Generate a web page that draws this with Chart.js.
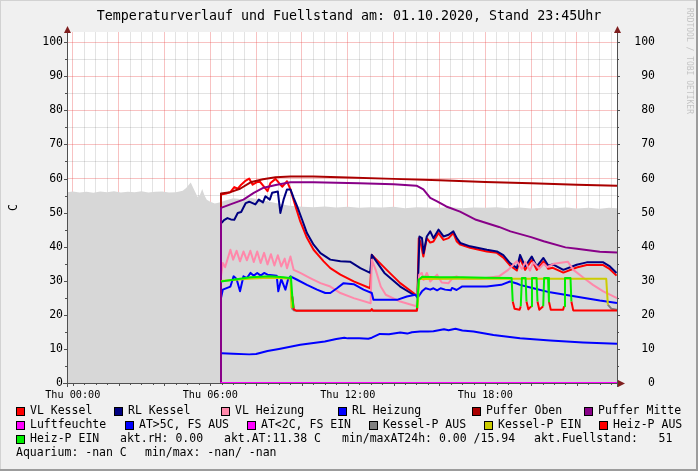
<!DOCTYPE html>
<html>
<head>
<meta charset="utf-8">
<script src="https://cdn.jsdelivr.net/npm/chart.js@4.4.0/dist/chart.umd.min.js"></script>
<style>
  html, body { margin: 0; padding: 0; background: #f0f0f0; }
  canvas { display: block; }
</style>
</head>
<body>
<canvas id="c" width="698" height="471"></canvas>
<script>
// Zeitachse in Stunden (Thu 00:00 = 0), Werte in C bzw. %
const TITLE = 'Temperaturverlauf und Fuellstand am: 01.10.2020, Stand 23:45Uhr';
const X_MIN = -0.25, X_MAX = 23.75;
const Y_MAX = 103;

const fuellstand = [[-0.25,56.0],[0.0,56.2],[0.3,55.9],[0.6,56.1],[0.9,55.8],[1.2,56.2],[1.5,56.0],[1.8,56.3],[2.1,55.9],[2.4,56.1],[2.7,56.0],[3.0,56.3],[3.3,55.9],[3.6,56.1],[3.9,56.2],[4.2,55.9],[4.5,56.0],[4.8,56.4],[4.95,57.2],[5.05,58.0],[5.15,58.8],[5.25,57.4],[5.35,56.0],[5.45,54.6],[5.55,55.2],[5.65,56.9],[5.75,55.0],[5.85,53.8],[6.0,53.2],[6.2,52.7],[6.4,53.0],[6.7,53.6],[7.0,54.2],[7.4,53.9],[7.8,54.3],[8.2,53.8],[8.6,53.2],[9.0,52.6],[9.4,52.1],[9.8,51.8],[10.5,51.6],[11.0,51.8],[11.5,51.5],[12,51.7],[12.5,51.4],[13,51.6],[13.5,51.5],[14,51.7],[14.5,51.3],[15,51.6],[15.5,51.5],[16,51.4],[16.5,51.6],[17,51.3],[17.5,51.5],[18,51.4],[18.5,51.6],[19,51.3],[19.5,51.5],[20,51.2],[20.5,51.4],[21,51.3],[21.5,51.5],[22,51.2],[22.5,51.4],[23,51.1],[23.4,51.4],[23.75,51.3]];

const vlKessel = [[6.47,55.3],[6.7,55.6],[6.88,56.0],[7.05,57.5],[7.2,57.0],[7.35,58.2],[7.55,59.4],[7.7,60.0],[7.85,58.2],[8.0,58.8],[8.15,59.2],[8.3,58.0],[8.5,56.3],[8.63,58.7],[8.85,59.9],[9.0,58.7],[9.15,57.6],[9.35,59.2],[9.5,56.8],[9.72,51.9],[9.93,47.4],[10.22,42.6],[10.51,39.1],[10.95,35.7],[11.24,33.7],[11.68,31.8],[12.26,29.8],[12.98,27.8],[13.05,37.6],[13.7,33.2],[14.29,29.3],[14.87,26.4],[15.04,25.4],[15.1,42.5],[15.17,41.5],[15.3,37.1],[15.45,42.5],[15.6,41.2],[15.74,41.5],[15.96,44.0],[16.18,42.0],[16.4,42.5],[16.61,44.0],[16.76,41.5],[16.91,40.6],[17.34,39.7],[18.07,38.6],[18.51,38.2],[18.79,36.8],[19.08,34.5],[19.38,33.0],[19.52,36.6],[19.74,33.2],[20.03,36.1],[20.25,33.2],[20.54,35.7],[20.75,33.5],[20.95,33.8],[21.41,32.4],[21.99,33.9],[22.43,34.6],[23.15,34.6],[23.44,33.4],[23.73,31.5]];

const rlKessel = [[6.5,47.0],[6.6,47.8],[6.75,48.4],[6.9,48.0],[7.05,47.9],[7.2,49.9],[7.35,50.2],[7.55,52.8],[7.7,53.2],[7.97,52.4],[8.12,53.8],[8.3,53.0],[8.41,54.8],[8.6,53.8],[8.7,55.8],[8.95,56.2],[9.06,49.9],[9.2,53.8],[9.35,56.8],[9.5,56.8],[9.64,54.3],[9.79,51.9],[10.01,47.9],[10.22,44.0],[10.51,40.6],[10.81,38.1],[11.24,36.2],[11.68,35.7],[12.1,35.6],[12.55,33.7],[12.98,32.3],[13.05,37.6],[13.6,32.3],[14.29,28.3],[14.87,25.9],[15.05,25.8],[15.13,43.0],[15.24,42.5],[15.31,38.1],[15.45,43.0],[15.6,44.5],[15.74,42.5],[15.96,45.0],[16.18,43.0],[16.4,43.5],[16.61,44.5],[16.76,42.5],[16.91,41.1],[17.34,40.1],[18.07,39.1],[18.51,38.6],[18.79,37.5],[19.08,35.2],[19.38,33.7],[19.52,37.6],[19.74,34.2],[20.03,37.1],[20.25,34.2],[20.54,36.7],[20.75,34.5],[20.95,34.8],[21.41,33.2],[21.99,34.7],[22.43,35.4],[23.15,35.4],[23.44,34.2],[23.73,32.3]];

const vlHeizung = [[6.47,31.3],[6.55,35.2],[6.65,34.0],[6.88,39.1],[7.0,36.2],[7.15,38.8],[7.3,35.7],[7.45,38.6],[7.6,36.0],[7.75,38.8],[7.9,35.5],[8.05,38.6],[8.2,35.2],[8.35,38.2],[8.5,34.8],[8.65,37.8],[8.8,34.5],[8.95,37.5],[9.1,34.2],[9.25,36.5],[9.35,33.7],[9.5,37.1],[9.64,33.2],[9.93,32.3],[10.36,30.8],[10.81,29.3],[11.24,28.3],[11.68,26.4],[12.26,24.9],[13.0,23.4],[13.05,36.2],[13.22,33.2],[13.44,28.3],[13.66,25.9],[14.29,23.9],[15.0,22.5],[15.12,31.8],[15.24,32.3],[15.31,30.2],[15.45,32.3],[15.6,29.8],[15.9,31.8],[16.1,29.5],[16.4,29.3],[16.6,31.0],[16.75,31.3],[17.0,30.5],[17.8,30.6],[18.6,31.3],[19.0,33.2],[19.15,34.2],[19.38,35.7],[19.6,33.5],[19.75,35.5],[19.95,33.0],[20.1,35.5],[20.35,33.5],[20.55,35.0],[20.7,34.0],[21.0,35.0],[21.3,35.3],[21.6,35.6],[21.85,33.2],[22.3,30.8],[22.7,28.8],[23.15,26.9],[23.75,24.9]];

const rlHeizung = [[6.47,24.9],[6.55,27.4],[6.88,28.3],[7.02,31.3],[7.15,30.5],[7.3,26.9],[7.45,31.3],[7.6,30.8],[7.76,32.3],[7.9,31.5],[8.05,32.3],[8.2,31.5],[8.35,32.3],[8.5,31.8],[8.9,31.5],[8.97,26.9],[9.1,30.5],[9.28,27.4],[9.4,30.5],[9.5,31.3],[9.79,30.3],[10.22,28.8],[10.66,27.4],[11.02,26.4],[11.24,26.4],[11.53,27.8],[11.82,29.3],[12.26,29.0],[12.69,27.4],[13.05,26.4],[13.12,24.4],[14.15,24.4],[14.58,25.4],[14.95,25.9],[15.05,25.0],[15.24,26.9],[15.4,27.8],[15.6,27.4],[15.74,27.8],[15.9,27.2],[16.05,27.8],[16.25,27.4],[16.5,27.2],[16.55,27.9],[16.75,27.3],[16.98,28.3],[18.07,28.3],[18.7,28.8],[19.08,29.8],[19.38,29.2],[19.52,28.8],[20.1,27.8],[20.83,26.6],[21.55,25.8],[22.27,25.0],[23.0,24.2],[23.75,23.5]];

const pufferOben = [[6.45,0],[6.47,55.6],[6.88,56.0],[7.3,57.0],[7.76,58.9],[8.3,59.8],[8.85,60.4],[9.5,60.6],[10.5,60.6],[12,60.3],[14,59.9],[16,59.5],[18,59.0],[20,58.6],[22,58.2],[23.75,57.9]];

const pufferMitte = [[6.45,0],[6.47,51.4],[6.88,52.4],[7.45,53.8],[7.9,55.8],[8.33,57.3],[8.91,58.2],[9.5,58.9],[10.5,58.9],[12.5,58.6],[14.0,58.3],[15.0,57.9],[15.3,56.8],[15.6,54.3],[15.9,53.3],[16.3,51.8],[16.9,50.3],[17.6,47.9],[18.6,45.8],[19.1,44.5],[20.0,42.8],[20.55,41.6],[21.5,39.8],[22.0,39.4],[23.0,38.5],[23.75,38.3]];

const luftfeuchte = [[6.45,0],[23.75,0]];

const atWarm = [[6.5,8.7],[7.0,8.6],[7.7,8.4],[8.0,8.5],[8.5,9.4],[9.0,10.0],[9.93,11.2],[11.0,12.2],[11.5,12.9],[11.85,13.3],[12.0,13.1],[12.5,13.1],[12.9,13.0],[13.05,13.3],[13.4,14.4],[13.8,14.3],[14.29,14.8],[14.6,14.5],[14.8,14.9],[15.16,15.1],[15.5,15.1],[15.74,15.2],[16.2,15.8],[16.4,15.5],[16.7,15.9],[17.0,15.4],[17.49,15.1],[18.36,14.1],[19.52,13.1],[20.83,12.5],[22.27,11.9],[23.75,11.5]];

const atKalt = [];

const kesselPAus = [[9.55,22.0],[9.65,21.3],[15.0,21.3],[15.05,22.0],[15.06,null],[23.35,23.0],[23.5,21.8],[23.75,21.5]];

const kesselPEin = [[6.47,29.9],[7.0,30.2],[7.8,30.7],[8.6,30.9],[9.5,30.7],[9.55,22.0],[9.56,null],[15.05,22.0],[15.12,30.5],[17.0,30.6],[19.0,30.6],[21.0,30.6],[23.28,30.6],[23.35,23.0]];

const heizPAus = [[9.58,25.4],[9.65,21.6],[9.75,21.2],[12.0,21.2],[13.0,21.2],[13.05,21.7],[13.1,21.2],[15.0,21.2],[15.02,22.0],[15.03,null],[19.2,23.9],[19.28,21.8],[19.5,21.5],[19.55,22.5],[19.56,null],[19.8,23.9],[19.88,21.6],[20.0,22.5],[20.01,null],[20.28,23.9],[20.36,21.5],[20.53,22.5],[20.54,null],[20.78,23.9],[20.86,21.5],[21.4,21.5],[21.44,22.5],[21.45,null],[21.76,23.9],[21.84,21.3],[23.75,21.3]];

const heizPEin = [[6.47,29.8],[7.0,30.3],[7.76,31.0],[8.6,31.3],[9.2,31.0],[9.45,30.8],[9.52,31.2],[9.58,25.4],[9.63,22.0],[9.64,null],[15.02,22.0],[15.1,30.3],[15.25,31.2],[16,31.0],[17,31.0],[18,30.9],[19.15,30.8],[19.2,23.9],[19.21,null],[19.55,22.5],[19.6,30.8],[19.76,30.8],[19.8,23.9],[19.81,null],[20.0,22.5],[20.04,30.8],[20.24,30.8],[20.28,23.9],[20.29,null],[20.53,22.5],[20.57,30.8],[20.74,30.8],[20.78,23.9],[20.79,null],[21.44,22.5],[21.48,30.8],[21.72,30.8],[21.76,23.9]];

// Legende (Reihenfolge = Zeichenreihenfolge)
const seriesNames = ['VL Kessel','RL Kessel','VL Heizung','RL Heizung','Puffer Oben','Puffer Mitte','Luftfeuchte','AT>5C, FS AUS','AT<2C, FS EIN','Kessel-P AUS','Kessel-P EIN','Heiz-P AUS','Heiz-P EIN'];
const seriesColors = ['#ff0000','#000080','#ff88aa','#0000ff','#aa0000','#880088','#ff00ff','#0000ff','#ff00ff','#808080','#cccc00','#ff0000','#00ee00'];
const seriesData = [vlKessel, rlKessel, vlHeizung, rlHeizung, pufferOben, pufferMitte, luftfeuchte, atWarm, atKalt, kesselPAus, kesselPEin, heizPAus, heizPEin];

const infoRow3 = ['akt.rH: 0.00', 'akt.AT:11.38 C', 'min/maxAT24h: 0.00 /15.94', 'akt.Fuellstand:   51'];
const infoRow4 = ['Aquarium: -nan C', 'min/max: -nan/ -nan'];

const MONO = "'DejaVu Sans Mono', monospace";
const GRID_MAJOR = 'rgba(235,70,70,0.33)';
const GRID_MINOR = 'rgba(90,90,90,0.17)';
const ARROW = '#7f1f1f';

const toXY = arr => arr.map(([x, y]) => ({ x, y }));

const datasets = [{
  label: 'Fuellstand',
  data: toXY(fuellstand),
  fill: 'origin',
  backgroundColor: '#d7d7d7',
  borderColor: 'rgba(0,0,0,0)',
  borderWidth: 0,
  order: 100
}];
seriesData.forEach((d, i) => {
  datasets.push({
    label: seriesNames[i],
    data: toXY(d),
    borderColor: seriesColors[i],
    borderWidth: 2,
    fill: false,
    order: 50 - i
  });
});

// Legenden-Positionen
const legendLayout = [
  [[16, 0], [114, 1], [221, 2], [338, 3], [472, 4], [584, 5]],
  [[16, 6], [125, 7], [247, 8], [369, 9], [484, 10], [599, 11]],
  [[16, 12]]
];
const infoX3 = [120, 224, 342, 534];
const infoX4 = [16, 145];
const rowY = [411, 425, 439, 453];

const rrdFrame = {
  id: 'rrdFrame',
  beforeDraw(chart) {
    const { ctx, chartArea: a, width: W, height: H } = chart;
    ctx.save();
    ctx.fillStyle = '#f0f0f0';
    ctx.fillRect(0, 0, W, H);
    ctx.fillStyle = '#d2d2d2';
    ctx.fillRect(0, 0, W, 1);
    ctx.fillRect(0, 0, 1, H);
    ctx.fillStyle = '#9c9c9c';
    ctx.fillRect(W - 2, 0, 2, H);
    ctx.fillRect(0, H - 2, W, 2);
    ctx.fillStyle = '#ffffff';
    ctx.fillRect(a.left, a.top, a.right - a.left, a.bottom - a.top);
    ctx.restore();
  },
  afterDraw(chart) {
    const { ctx, chartArea: a, scales } = chart;
    const xs = scales.x, ys = scales.y;
    ctx.save();

    // Achsen
    ctx.strokeStyle = '#505050';
    ctx.lineWidth = 1;
    ctx.beginPath();
    ctx.moveTo(a.left + 0.5, a.bottom + 4);
    ctx.lineTo(a.left + 0.5, a.top - 3);
    ctx.moveTo(a.right + 0.5, a.bottom + 4);
    ctx.lineTo(a.right + 0.5, a.top - 3);
    ctx.moveTo(a.left - 4, a.bottom + 0.5);
    ctx.lineTo(a.right + 6, a.bottom + 0.5);
    // Tickmarks
    for (let v = 0; v <= 100; v += 5) {
      const y = Math.round(ys.getPixelForValue(v)) + 0.5;
      const len = v % 10 === 0 ? 3 : 2;
      ctx.moveTo(a.left - len, y); ctx.lineTo(a.left, y);
      ctx.moveTo(a.right, y); ctx.lineTo(a.right + len, y);
    }
    for (let h = 0; h <= 23.5; h += 0.5) {
      const x = Math.round(xs.getPixelForValue(h)) + 0.5;
      const len = h % 2 === 0 ? 3 : 2;
      ctx.moveTo(x, a.bottom); ctx.lineTo(x, a.bottom + len);
    }
    ctx.stroke();

    // Pfeile
    ctx.fillStyle = ARROW;
    const up = x => {
      ctx.beginPath();
      ctx.moveTo(x - 3, a.top + 1);
      ctx.lineTo(x + 4, a.top + 1);
      ctx.lineTo(x + 0.5, a.top - 6);
      ctx.closePath();
      ctx.fill();
    };
    up(a.left);
    up(a.right);
    ctx.beginPath();
    ctx.moveTo(a.right + 1, a.bottom - 3);
    ctx.lineTo(a.right + 1, a.bottom + 4);
    ctx.lineTo(a.right + 8, a.bottom + 0.5);
    ctx.closePath();
    ctx.fill();

    // Titel
    ctx.fillStyle = '#000';
    ctx.font = '13.3px ' + MONO;
    ctx.textAlign = 'center';
    ctx.textBaseline = 'middle';
    ctx.fillText(TITLE, 349, 17);

    // Y-Achsentitel
    ctx.save();
    ctx.translate(14, (a.top + a.bottom) / 2);
    ctx.rotate(-Math.PI / 2);
    ctx.font = '11.5px ' + MONO;
    ctx.fillText('C', 0, 0);
    ctx.restore();

    // Wasserzeichen
    ctx.save();
    ctx.translate(689, 8);
    ctx.rotate(Math.PI / 2);
    ctx.fillStyle = '#c4c4c4';
    ctx.font = '8px ' + MONO;
    ctx.textAlign = 'left';
    ctx.fillText('RRDTOOL / TOBI OETIKER', 0, 0);
    ctx.restore();

    // Legende
    ctx.font = '11.5px ' + MONO;
    ctx.textAlign = 'left';
    ctx.textBaseline = 'middle';
    legendLayout.forEach((row, r) => {
      const y = rowY[r];
      row.forEach(([x, idx]) => {
        ctx.fillStyle = seriesColors[idx];
        ctx.fillRect(x, y - 4, 8, 8);
        ctx.strokeStyle = '#000';
        ctx.strokeRect(x + 0.5, y - 3.5, 8, 8);
        ctx.fillStyle = '#000';
        ctx.fillText(seriesNames[idx], x + 14, y + 0.5);
      });
    });
    ctx.fillStyle = '#000';
    infoRow3.forEach((t, i) => ctx.fillText(t, infoX3[i], rowY[2] + 0.5));
    infoRow4.forEach((t, i) => ctx.fillText(t, infoX4[i], rowY[3] + 0.5));

    ctx.restore();
  }
};

const pad2 = n => String(n).padStart(2, '0');
const tickFont = { family: MONO, size: 11.5 };
const xTickFont = { family: MONO, size: 10.2 };

new Chart(document.getElementById('c'), {
  type: 'line',
  data: { datasets },
  plugins: [rrdFrame],
  options: {
    responsive: false,
    animation: false,
    parsing: true,
    layout: { padding: { left: 0, right: 43, top: 32, bottom: 0 } },
    elements: { point: { radius: 0 }, line: { tension: 0, borderJoinStyle: 'round' } },
    plugins: { legend: { display: false }, tooltip: { enabled: false }, title: { display: false } },
    scales: {
      x: {
        type: 'linear', min: X_MIN, max: X_MAX, z: 1,
        afterBuildTicks: s => {
          const t = [];
          for (let h = 0; h <= 23.5; h += 0.5) t.push({ value: h });
          s.ticks = t;
        },
        afterFit: s => { s.height = 88; },
        border: { display: false },
        grid: {
          drawTicks: false,
          color: c => (c.tick && c.tick.value % 2 === 0) ? GRID_MAJOR : GRID_MINOR
        },
        ticks: {
          autoSkip: false, maxRotation: 0, padding: 6, color: '#000', font: xTickFont,
          callback: v => v % 6 === 0 ? 'Thu ' + pad2(v) + ':00' : ''
        }
      },
      y: {
        position: 'left', min: 0, max: Y_MAX, z: 1,
        afterBuildTicks: s => {
          const t = [];
          for (let v = 0; v <= 100; v += 5) t.push({ value: v });
          s.ticks = t;
        },
        afterFit: s => { s.width = 67; },
        border: { display: false },
        grid: {
          drawTicks: false,
          color: c => (c.tick && c.tick.value % 10 === 0) ? GRID_MAJOR : GRID_MINOR
        },
        ticks: { padding: 4, color: '#000', font: tickFont, callback: v => v % 10 === 0 ? v : '' }
      },
      y2: {
        position: 'right', min: 0, max: Y_MAX, z: 1,
        afterBuildTicks: s => {
          const t = [];
          for (let v = 0; v <= 100; v += 10) t.push({ value: v });
          s.ticks = t;
        },
        afterFit: s => { s.width = 38; },
        border: { display: false },
        grid: { display: false, drawTicks: false },
        ticks: { crossAlign: 'far', color: '#000', font: tickFont, callback: v => v }
      }
    }
  }
});
</script>
</body>
</html>
